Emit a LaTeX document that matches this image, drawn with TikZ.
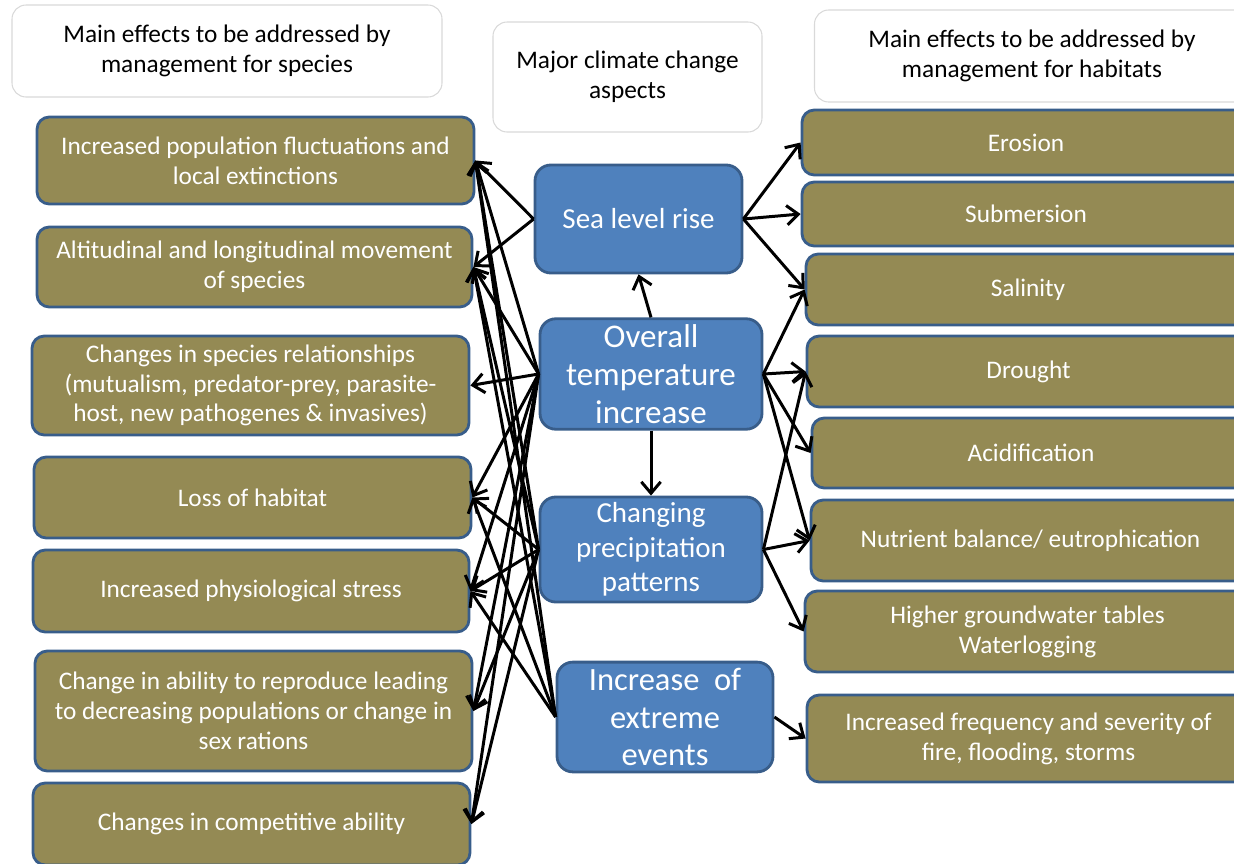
\documentclass[tikz,border=0pt]{standalone}
\usepackage{fontspec}
\setmainfont{Carlito}
\usetikzlibrary{arrows.meta}

\definecolor{olive}{RGB}{148,138,84}
\definecolor{boxblue}{RGB}{79,129,189}
\definecolor{edgeblue}{RGB}{56,93,138}
\definecolor{lightgray}{RGB}{217,217,217}

\tikzset{
	header/.style={draw=lightgray, line width=0.6pt, fill=white, rounded corners=8pt, align=center, font=\fontsize{14.4}{17}\selectfont},
	effect/.style={draw=edgeblue, line width=1.6pt, fill=olive, rounded corners=7pt, align=center, text=white, font=\fontsize{14.4}{17}\selectfont},
	aspect/.style={draw=edgeblue, line width=1.6pt, fill=boxblue, rounded corners=9pt, align=center, text=white},
	link/.style={line width=1.7pt, -{Straight Barb[length=6.5pt,width=11pt,line width=1.7pt]}},
}

\begin{document}
\begin{tikzpicture}
		\useasboundingbox (0,0) rectangle (24.68,-17.26);
		\clip (0,0) rectangle (24.68,-17.26);
		
		% column headers
		\node[header, minimum width=8.6cm, minimum height=1.84cm] (hspec) at (4.54,-1.02) {Main effects to be addressed by\\management for species};
		\node[header, minimum width=5.38cm, minimum height=2.2cm] (hclim) at (12.55,-1.54) {Major climate change\\aspects};
		\node[header, minimum width=8.7cm, minimum height=1.84cm] (hhab) at (20.64,-1.12) {Main effects to be addressed by\\management for habitats};
		
		% effects on species
		\node[effect, minimum width=8.74cm, minimum height=1.74cm] (s1) at (5.11,-3.21) {Increased population fluctuations and\\local extinctions};
		\node[effect, minimum width=8.7cm, minimum height=1.6cm] (s2) at (5.09,-5.34) {Altitudinal and longitudinal movement\\of species};
		\node[effect, minimum width=8.74cm, minimum height=1.98cm] (s3) at (5.01,-7.71) {Changes in species relationships\\(mutualism, predator-prey, parasite-\\host, new pathogenes \& invasives)};
		\node[effect, minimum width=8.74cm, minimum height=1.62cm] (s4) at (5.05,-9.95) {Loss of habitat};
		\node[effect, minimum width=8.72cm, minimum height=1.64cm] (s5) at (5.02,-11.82) {Increased physiological stress};
		\node[effect, minimum width=8.74cm, minimum height=2.4cm] (s6) at (5.07,-14.22) {Change in ability to reproduce leading\\to decreasing populations or change in\\sex rations};
		\node[effect, minimum width=8.74cm, minimum height=1.64cm] (s7) at (5.03,-16.48) {Changes in competitive ability};
		
		% climate change aspects
		\node[aspect, minimum width=4.14cm, minimum height=2.16cm, font=\fontsize{16.5}{20}\selectfont] (slr) at (12.77,-4.38) {Sea level rise};
		\node[aspect, minimum width=4.44cm, minimum height=2.16cm, font=\fontsize{18.8}{21.5}\selectfont] (temp) at (13.02,-7.48) {Overall\\temperature\\increase};
		\node[aspect, minimum width=4.44cm, minimum height=2.02cm, font=\fontsize{16.5}{19.5}\selectfont] (prec) at (13.02,-10.99) {Changing\\precipitation\\patterns};
		\node[aspect, minimum width=4.32cm, minimum height=2.16cm, font=\fontsize{18.5}{21.5}\selectfont] (extr) at (13.3,-14.34) {Increase\ \ of\\extreme\\events};
		
		% effects on habitats
		\node[effect, minimum width=8.96cm, minimum height=1.3cm] (ero) at (20.52,-2.85) {Erosion};
		\node[effect, minimum width=8.96cm, minimum height=1.28cm] (sub) at (20.52,-4.28) {Submersion};
		\node[effect, minimum width=8.88cm, minimum height=1.42cm] (sal) at (20.56,-5.79) {Salinity};
		\node[effect, minimum width=8.86cm, minimum height=1.42cm] (dro) at (20.57,-7.43) {Drought};
		\node[effect, minimum width=8.76cm, minimum height=1.4cm] (aci) at (20.62,-9.06) {Acidification};
		\node[effect, minimum width=8.78cm, minimum height=1.62cm] (nut) at (20.61,-10.81) {Nutrient balance/ eutrophication};
		\node[effect, minimum width=8.9cm, minimum height=1.62cm] (gw) at (20.55,-12.63) {Higher groundwater tables\\Waterlogging};
		\node[effect, minimum width=8.86cm, minimum height=1.74cm] (fire) at (20.57,-14.77) {Increased frequency and severity of\\fire, flooding, storms};
		
		% links between the columns
		\draw[link] (temp.north) -- (slr.south);
		\draw[link] (temp.south) -- (prec.north);
		
		\foreach \t in {s1,s2} {
			\draw[link] (slr.west) -- (\t.east);
		}
		\foreach \t in {s1,s2,s3,s4,s5,s6,s7} {
			\draw[link] (temp.west) -- (\t.east);
		}
		\foreach \t in {s1,s2,s4,s5,s6,s7} {
			\draw[link] (prec.west) -- (\t.east);
		}
		\foreach \t in {s1,s2,s4,s5} {
			\draw[link] (extr.west) -- (\t.east);
		}
		
		\foreach \t in {ero,sub,sal} {
			\draw[link] (slr.east) -- (\t.west);
		}
		\foreach \t in {sal,dro,aci,nut} {
			\draw[link] (temp.east) -- (\t.west);
		}
		\foreach \t in {dro,nut,gw} {
			\draw[link] (prec.east) -- (\t.west);
		}
		\draw[link] (extr.east) -- (fire.west);
	\end{tikzpicture}
\end{document}
